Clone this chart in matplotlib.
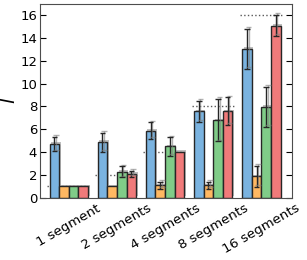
import numpy as np
import matplotlib
matplotlib.use("Agg")
import matplotlib.pyplot as plt
import matplotlib.patheffects as pe

categories = ["1 segment", "2 segments", "4 segments", "8 segments", "16 segments"]
ideal = [1, 2, 4, 8, 16]

blue = [4.7, 4.87, 5.88, 7.58, 13.08]
blue_err = [0.65, 0.83, 0.74, 0.93, 1.75]
orange = [1.0, 1.0, 1.08, 1.08, 1.86]
orange_err = [0, 0, 0.3, 0.3, 0.93]
green = [1.0, 2.25, 4.49, 6.79, 7.98]
green_err = [0, 0.48, 0.8, 1.85, 1.75]
red = [1.0, 2.1, 4.0, 7.58, 15.1]
red_err = [0, 0.26, 0, 1.22, 0.93]

series = [
    (blue, blue_err, "#7ab3e0"),
    (orange, orange_err, "#ffb862"),
    (green, green_err, "#80cc88"),
    (red, red_err, "#f07a7a"),
]

fig = plt.figure(figsize=(3.07, 2.6), dpi=100)
ax = fig.add_axes([0.13, 0.24, 0.82, 0.745])

x = np.arange(len(categories))
w = 0.2
shadow = [pe.SimplePatchShadow(offset=(1.2, 1.2), shadow_rgbFace="0.5", alpha=0.5), pe.Normal()]

for i, lvl in enumerate(ideal):
    ax.plot([i - 0.05, i + 0.85], [lvl, lvl], ls=":", color="0.35", lw=1, zorder=1)

for j, (vals, errs, col) in enumerate(series):
    bars = ax.bar(x + j * w, vals, w, align="edge", color=col, edgecolor="0.15",
                  linewidth=1.0, zorder=2)
    for b in bars:
        b.set_path_effects(shadow)
    for i in range(len(vals)):
        if errs[i] > 0:
            ax.errorbar(x[i] + j * w + w / 2, vals[i], yerr=errs[i], fmt="none",
                        ecolor="0.15", elinewidth=1, capsize=2, capthick=1, zorder=3,
                        path_effects=[pe.SimpleLineShadow(offset=(1.2, 1.2), shadow_color="0.5", alpha=0.6), pe.Normal()])

ax.set_xlim(-0.2, 5.03)
ax.set_ylim(0, 17)
ax.set_yticks([0, 2, 4, 6, 8, 10, 12, 14, 16])
ax.set_xticks(x + 0.4)
ax.set_xticklabels(categories, rotation=30, ha="center", fontsize=9.5)
ax.tick_params(axis="x", length=0, pad=3)
ax.tick_params(axis="y", direction="in", right=True, length=4, labelsize=9.5, pad=2)
ax.set_ylabel("$l$", fontsize=14)
ax.yaxis.set_label_coords(-0.085, 0.5)
for s in ax.spines.values():
    s.set_color("0.3")

fig.savefig("out.png", dpi=100)
